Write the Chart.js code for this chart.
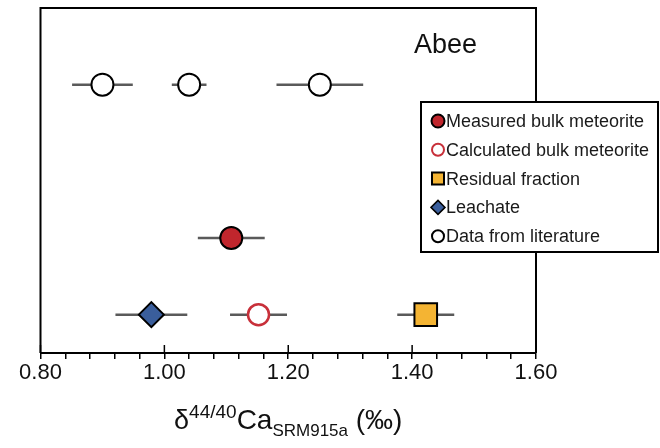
<!DOCTYPE html>
<html>
<head>
<meta charset="utf-8">
<script src="https://cdn.jsdelivr.net/npm/chart.js@4.4.0/dist/chart.umd.min.js"></script>
<style>
  html, body { margin: 0; padding: 0; background: #fff; }
</style>
</head>
<body>
<canvas id="myChart" width="660" height="448"></canvas>
<script>
var FONT = "'Liberation Sans', Arial, sans-serif";

// series, legend order
let seriesNames = ['Measured bulk meteorite', 'Calculated bulk meteorite', 'Residual fraction', 'Leachate', 'Data from literature'];

// d44/40Ca values and 2SD
let measuredX = [1.108];
let measuredErr = [0.054];
let calculatedX = [1.152];
let calculatedErr = [0.046];
let residualX = [1.422];
let residualErr = [0.046];
let leachateX = [0.979];
let leachateErr = [0.058];
let literatureX = [0.900, 1.040, 1.251];
let literatureErr = [0.049, 0.028, 0.070];

// rows on the (hidden) y axis
let rowLiterature = 3.5;
let rowMeasured = 1.5;
let rowFractions = 0.5;

let xMajorTicks = [0.80, 1.00, 1.20, 1.40, 1.60];
let xMinorStep = 0.04;
let sampleName = 'Abee';

function pts(xs, row) {
  return xs.map(function (x) { return { x: x, y: row }; });
}

function isMajor(v) {
  return xMajorTicks.some(function (m) { return Math.abs(m - v) < 1e-6; });
}

// error bars behind the markers
let errorBars = {
  id: 'errorBars',
  beforeDatasetsDraw: function (chart) {
    let ctx = chart.ctx, xs = chart.scales.x, ys = chart.scales.y;
    ctx.save();
    ctx.strokeStyle = '#5a5a5a';
    ctx.lineWidth = 2.5;
    chart.data.datasets.forEach(function (ds) {
      ds.data.forEach(function (p, i) {
        let py = ys.getPixelForValue(p.y);
        ctx.beginPath();
        ctx.moveTo(xs.getPixelForValue(p.x - ds.err[i]), py);
        ctx.lineTo(xs.getPixelForValue(p.x + ds.err[i]), py);
        ctx.stroke();
      });
    });
    ctx.restore();
  }
};

// frame, inner major ticks, sample name, axis title, legend
let decorations = {
  id: 'decorations',
  beforeDatasetsDraw: function (chart) {
    let ctx = chart.ctx, a = chart.chartArea, xs = chart.scales.x;
    ctx.save();
    ctx.strokeStyle = '#000';
    ctx.lineWidth = 2;
    ctx.beginPath();
    ctx.moveTo(a.left, a.bottom);
    ctx.lineTo(a.left, a.top);
    ctx.lineTo(a.right, a.top);
    ctx.lineTo(a.right, a.bottom);
    ctx.stroke();
    ctx.lineWidth = 1.5;
    xMajorTicks.forEach(function (v) {
      let px = xs.getPixelForValue(v);
      ctx.beginPath();
      ctx.moveTo(px, a.bottom);
      ctx.lineTo(px, a.bottom - 8);
      ctx.stroke();
    });
    ctx.fillStyle = '#111';
    ctx.font = '27px ' + FONT;
    ctx.textBaseline = 'alphabetic';
    ctx.fillText(sampleName, 414, 53);
    ctx.restore();
  },
  afterDraw: function (chart) {
    let ctx = chart.ctx, a = chart.chartArea;
    ctx.save();

    // axis title with super/subscript
    let parts = [
      { t: 'δ', size: 27, dy: 0 },
      { t: '44/40', size: 19, dy: -11 },
      { t: 'Ca', size: 28, dy: 0 },
      { t: 'SRM915a', size: 17, dy: 7 },
      { t: ' (‰)', size: 28, dy: 0 }
    ];
    let total = 0;
    parts.forEach(function (p) {
      ctx.font = p.size + 'px ' + FONT;
      p.w = ctx.measureText(p.t).width;
      total += p.w;
    });
    let tx = (a.left + a.right) / 2 - total / 2;
    ctx.fillStyle = '#111';
    ctx.textBaseline = 'alphabetic';
    parts.forEach(function (p) {
      ctx.font = p.size + 'px ' + FONT;
      ctx.fillText(p.t, tx, 429 + p.dy);
      tx += p.w;
    });

    // legend box
    let bx = 421, by = 102, bw = 237, bh = 150;
    ctx.fillStyle = '#fff';
    ctx.fillRect(bx, by, bw, bh);
    ctx.strokeStyle = '#000';
    ctx.lineWidth = 2;
    ctx.strokeRect(bx, by, bw, bh);

    let rowH = 28.8;
    ctx.font = '18px ' + FONT;
    ctx.textBaseline = 'middle';
    chart.data.datasets.forEach(function (ds, i) {
      let cy = by + 19 + i * rowH;
      ctx.fillStyle = ds.backgroundColor;
      ctx.strokeStyle = ds.borderColor;
      ctx.lineWidth = ds.legendBorder;
      Chart.helpers.drawPoint(ctx, {
        pointStyle: ds.pointStyle,
        radius: ds.legendRadius,
        borderWidth: ds.legendBorder,
        rotation: 0
      }, bx + 17, cy);
      ctx.fillStyle = '#1a1a1a';
      ctx.fillText(ds.label, bx + 25, cy + 1);
    });
    ctx.restore();
  }
};

let ctx1 = document.getElementById('myChart').getContext('2d');

let chart1 = new Chart(ctx1, {
  type: 'scatter',
  data: {
    datasets: [{
      label: seriesNames[0],
      data: pts(measuredX, rowMeasured),
      err: measuredErr,
      pointStyle: 'circle',
      pointRadius: 11,
      backgroundColor: '#C0262D',
      borderColor: '#000',
      borderWidth: 2,
      legendRadius: 6.5,
      legendBorder: 2
    }, {
      label: seriesNames[1],
      data: pts(calculatedX, rowFractions),
      err: calculatedErr,
      pointStyle: 'circle',
      pointRadius: 10.5,
      backgroundColor: '#fff',
      borderColor: '#C8303A',
      borderWidth: 2.5,
      legendRadius: 6,
      legendBorder: 2
    }, {
      label: seriesNames[2],
      data: pts(residualX, rowFractions),
      err: residualErr,
      pointStyle: 'rect',
      pointRadius: 16,
      backgroundColor: '#F4B433',
      borderColor: '#000',
      borderWidth: 2,
      legendRadius: 8.5,
      legendBorder: 2
    }, {
      label: seriesNames[3],
      data: pts(leachateX, rowFractions),
      err: leachateErr,
      pointStyle: 'rectRot',
      pointRadius: 12.5,
      backgroundColor: '#3A5E9C',
      borderColor: '#000',
      borderWidth: 2,
      legendRadius: 7,
      legendBorder: 1.5
    }, {
      label: seriesNames[4],
      data: pts(literatureX, rowLiterature),
      err: literatureErr,
      pointStyle: 'circle',
      pointRadius: 11,
      backgroundColor: '#fff',
      borderColor: '#000',
      borderWidth: 2,
      legendRadius: 6,
      legendBorder: 2
    }]
  },
  options: {
    responsive: false,
    animation: false,
    devicePixelRatio: 1,
    events: [],
    layout: { autoPadding: false, padding: { left: 40.5, right: 124, top: 8, bottom: 0 } },
    plugins: {
      legend: { display: false },
      tooltip: { enabled: false }
    },
    scales: {
      x: {
        type: 'linear',
        min: 0.8,
        max: 1.6,
        afterBuildTicks: function (scale) {
          let t = [];
          for (let i = 0; i <= 20; i++) {
            t.push({ value: Math.round((0.8 + i * xMinorStep) * 100) / 100 });
          }
          scale.ticks = t;
        },
        afterFit: function (scale) { scale.height = 95; },
        border: { display: true, color: '#000', width: 2 },
        grid: {
          display: true,
          drawOnChartArea: false,
          drawTicks: true,
          tickLength: 6,
          color: '#000',
          lineWidth: 1.5
        },
        ticks: {
          autoSkip: false,
          maxRotation: 0,
          padding: 1,
          color: '#111',
          font: { family: FONT, size: 22 },
          callback: function (v) { return isMajor(v) ? v.toFixed(2) : ''; }
        }
      },
      y: {
        type: 'linear',
        min: 0,
        max: 4.5,
        display: false
      }
    }
  },
  plugins: [errorBars, decorations]
});
</script>
</body>
</html>
